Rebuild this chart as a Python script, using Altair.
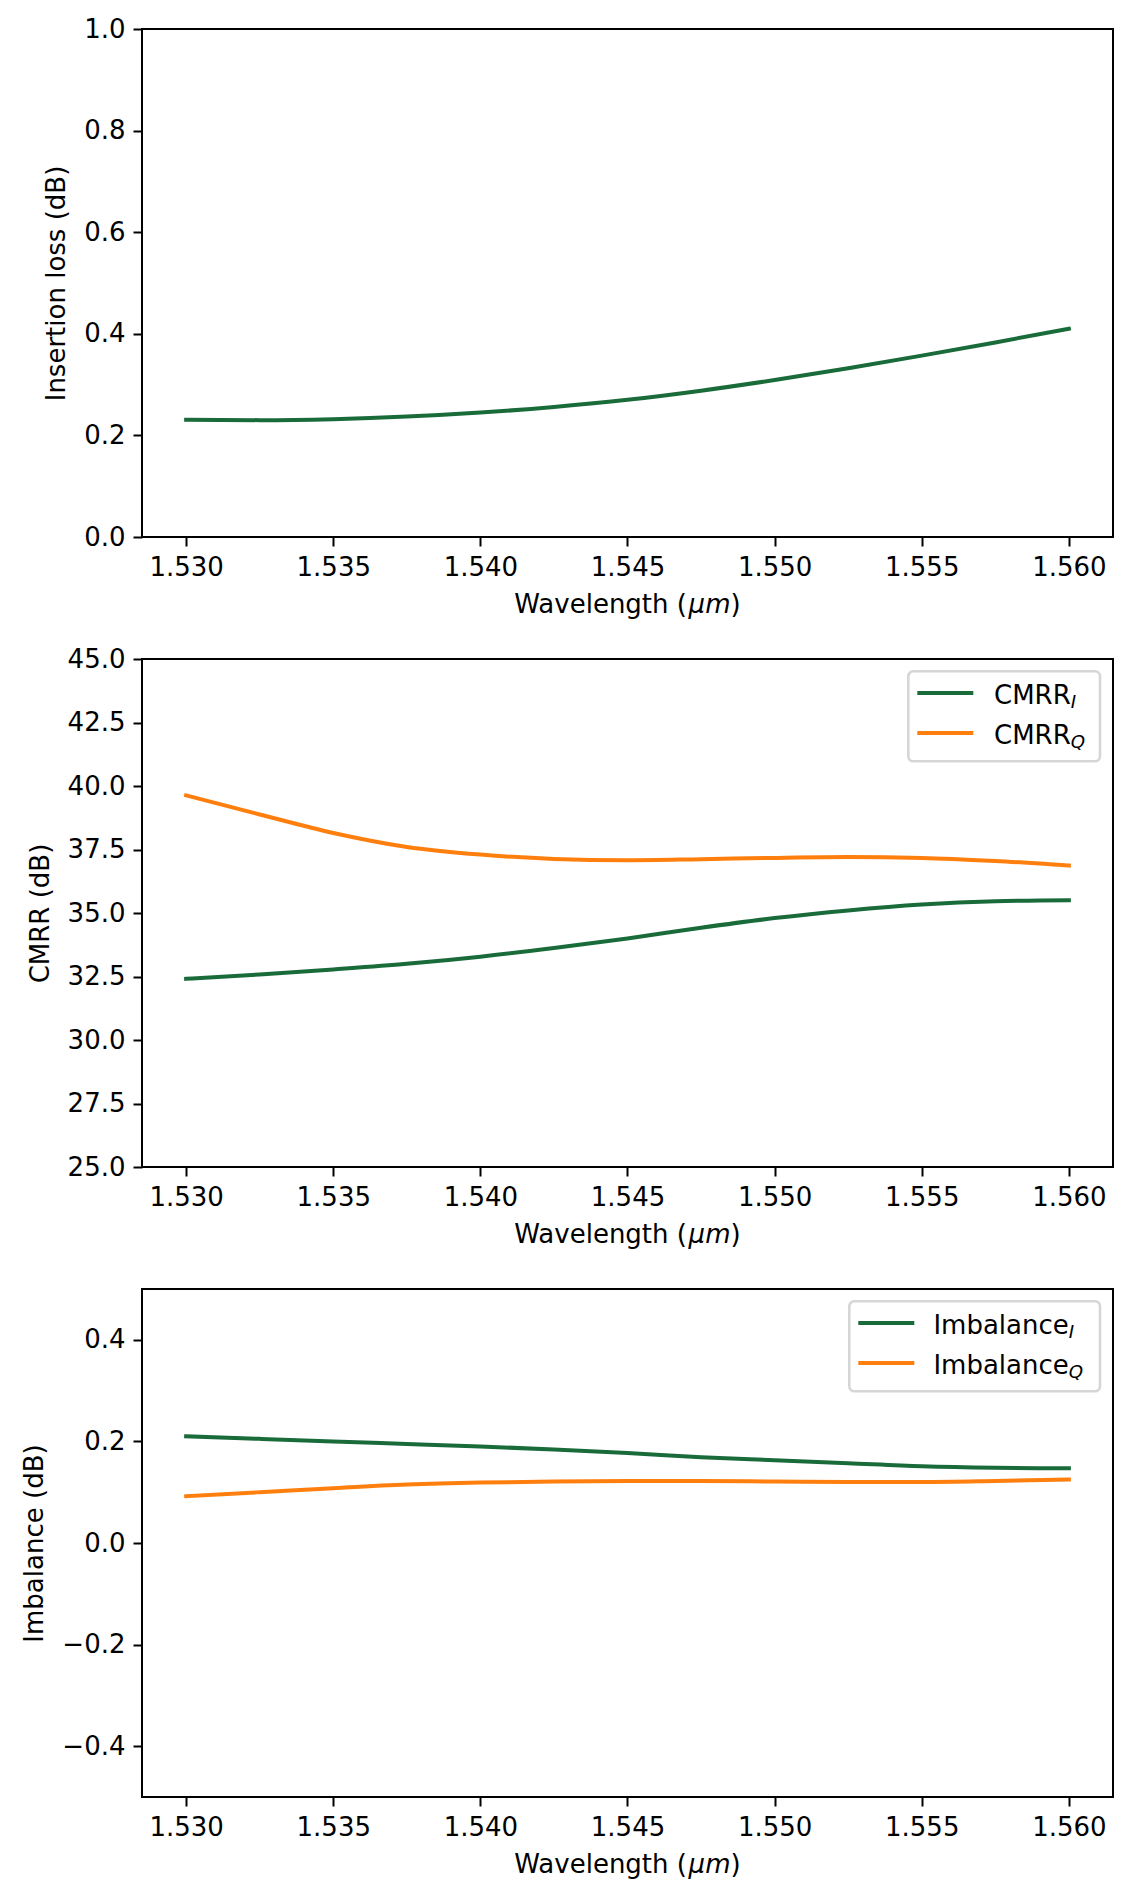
import altair as alt
import pandas as pd

# ---------------- data ----------------
wavelength = [1.530, 1.5325, 1.535, 1.5375, 1.540, 1.5425, 1.545,
              1.5475, 1.550, 1.5525, 1.555, 1.5575, 1.560]
insertion_loss = [0.231, 0.230, 0.232, 0.237, 0.245, 0.256, 0.270,
                  0.288, 0.309, 0.332, 0.357, 0.383, 0.410]
cmrr_i = [32.41, 32.58, 32.78, 33.00, 33.28, 33.62, 34.00,
          34.42, 34.80, 35.10, 35.33, 35.46, 35.50]
cmrr_q = [39.63, 38.88, 38.15, 37.60, 37.30, 37.13, 37.08,
          37.12, 37.17, 37.20, 37.17, 37.05, 36.87]
imb_i = [0.210, 0.205, 0.200, 0.195, 0.190, 0.184, 0.177,
         0.169, 0.163, 0.157, 0.151, 0.148, 0.147]
imb_q = [0.092, 0.100, 0.108, 0.115, 0.119, 0.121, 0.122,
         0.122, 0.121, 0.120, 0.120, 0.122, 0.125]

x_ticks = [1.530, 1.535, 1.540, 1.545, 1.550, 1.555, 1.560]
y1_ticks = [0.0, 0.2, 0.4, 0.6, 0.8, 1.0]
y2_ticks = [25.0, 27.5, 30.0, 32.5, 35.0, 37.5, 40.0, 42.5, 45.0]
y3_ticks = [-0.4, -0.2, 0.0, 0.2, 0.4]

series_cmrr = ["CMRR_I", "CMRR_Q"]
series_imb = ["Imbalance_I", "Imbalance_Q"]
legend_cmrr = [("CMRR", "I"), ("CMRR", "Q")]
legend_imb = [("Imbalance", "I"), ("Imbalance", "Q")]
xtitle_parts = ["Wavelength (", "\u03bcm", ")"]

GREEN = "#1a6b3a"
ORANGE = "#ff7f0e"
FONT = "DejaVu Sans"
FS = 26
W, H = 971, 508

x_domain = [1.5285, 1.5615]


def xtitle_layers():
    # composite title "Wavelength (μm)" with italic μm, centred under the plot
    y = H + 76
    start = W / 2 - 113.2
    xs = [start, start + 174.3, start + 216.2]
    styles = ["normal", "italic", "normal"]
    layers = []
    for t, x, s in zip(xtitle_parts, xs, styles):
        layers.append(
            alt.Chart(pd.DataFrame({"k": [0]}))
            .mark_text(text=t, align="left", baseline="alphabetic", font=FONT,
                       fontSize=FS, fontStyle=s, color="black")
            .encode(x=alt.value(x), y=alt.value(y))
        )
    return layers


def legend_layers(entries, box_left, handle_x0, text_x, main_width):
    box_right = W - 13
    layers = [
        alt.Chart(pd.DataFrame({"k": [0]}))
        .mark_rect(fill="white", fillOpacity=0.8, stroke="#cccccc",
                   strokeOpacity=0.8, strokeWidth=2.6, cornerRadius=5)
        .encode(x=alt.value(box_left), x2=alt.value(box_right),
                y=alt.value(12.3), y2=alt.value(102.3))
    ]
    colors = [GREEN, ORANGE]
    for i, (main, sub) in enumerate(entries):
        ly = 34 + 40 * i
        by = 44.5 + 40 * i
        layers.append(
            alt.Chart(pd.DataFrame({"k": [0]}))
            .mark_rule(color=colors[i], strokeWidth=4, strokeCap="square")
            .encode(x=alt.value(handle_x0), x2=alt.value(handle_x0 + 52),
                    y=alt.value(ly))
        )
        layers.append(
            alt.Chart(pd.DataFrame({"k": [0]}))
            .mark_text(text=main, align="left", baseline="alphabetic",
                       font=FONT, fontSize=FS, color="black")
            .encode(x=alt.value(text_x), y=alt.value(by))
        )
        layers.append(
            alt.Chart(pd.DataFrame({"k": [0]}))
            .mark_text(text=sub, align="left", baseline="alphabetic",
                       font=FONT, fontSize=FS * 0.7, fontStyle="italic",
                       color="black")
            .encode(x=alt.value(text_x + main_width), y=alt.value(by + 4))
        )
    return layers


def x_enc():
    return alt.X("wl:Q", scale=alt.Scale(domain=x_domain, nice=False, zero=False),
                 axis=alt.Axis(values=x_ticks, format=".3f", title=None))


# ---------------- panel 1 ----------------
df1 = pd.DataFrame({"wl": wavelength, "v": insertion_loss})
line1 = alt.Chart(df1).mark_line(color=GREEN, strokeWidth=4, strokeCap="square",
                                 interpolate="monotone").encode(
    x=x_enc(),
    y=alt.Y("v:Q", scale=alt.Scale(domain=[0, 1], nice=False, zero=False),
            axis=alt.Axis(values=y1_ticks, format=".1f", title="Insertion loss (dB)")),
)
p1 = alt.layer(line1, *xtitle_layers()).properties(width=W, height=H)

# ---------------- panel 2 ----------------
df2 = pd.DataFrame({
    "wl": wavelength * 2,
    "v": cmrr_i + cmrr_q,
    "s": [series_cmrr[0]] * len(wavelength) + [series_cmrr[1]] * len(wavelength),
})
line2 = alt.Chart(df2).mark_line(strokeWidth=4, strokeCap="square",
                                 interpolate="monotone").encode(
    x=x_enc(),
    y=alt.Y("v:Q", scale=alt.Scale(domain=[25, 45], nice=False, zero=False),
            axis=alt.Axis(values=y2_ticks, format=".1f", title="CMRR (dB)")),
    color=alt.Color("s:N", scale=alt.Scale(domain=series_cmrr, range=[GREEN, ORANGE]),
                    legend=None),
)
p2 = alt.layer(line2, *legend_layers(legend_cmrr, 766.3, 777.3, 852.0, 76.7),
               *xtitle_layers()).properties(width=W, height=H)

# ---------------- panel 3 ----------------
df3 = pd.DataFrame({
    "wl": wavelength * 2,
    "v": imb_i + imb_q,
    "s": [series_imb[0]] * len(wavelength) + [series_imb[1]] * len(wavelength),
})
line3 = alt.Chart(df3).mark_line(strokeWidth=4, strokeCap="square",
                                 interpolate="monotone").encode(
    x=x_enc(),
    y=alt.Y("v:Q", scale=alt.Scale(domain=[-0.5, 0.5], nice=False, zero=False),
            axis=alt.Axis(values=y3_ticks, format=".1f", title="Imbalance (dB)")),
    color=alt.Color("s:N", scale=alt.Scale(domain=series_imb, range=[GREEN, ORANGE]),
                    legend=None),
)
p3 = alt.layer(line3, *legend_layers(legend_imb, 707.3, 718.3, 791.4, 135.4),
               *xtitle_layers()).properties(width=W, height=H)

chart = (
    alt.vconcat(p1, p2, p3, spacing=122, bounds="flush")
    .properties(padding={"left": 12, "top": 7, "right": 5, "bottom": 5},
                background="white")
    .configure_view(stroke="black", strokeWidth=2)
    .configure_axis(domain=False, grid=False, tickColor="black", tickWidth=2,
                    tickSize=9, labelFont=FONT, labelFontSize=FS, labelColor="black",
                    labelPadding=8, labelFlush=False, labelOverlap=False,
                    titleFont=FONT, titleFontSize=FS, titleFontWeight="normal",
                    titleColor="black", titlePadding=14)
)

chart.save("out.html", embed_options={"renderer": "svg", "actions": False})
